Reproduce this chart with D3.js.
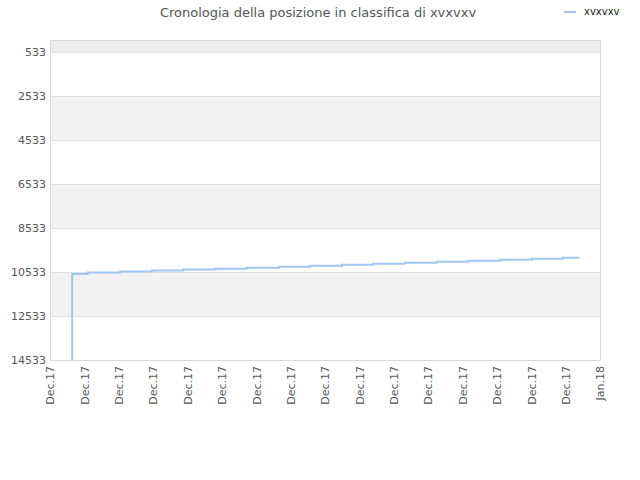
<!DOCTYPE html>
<html>
<head>
<meta charset="utf-8">
<script src="https://cdn.jsdelivr.net/npm/d3@7"></script>
<style>
  body { margin: 0; background: #fff; }
  text { font-family: "DejaVu Sans", sans-serif; }
</style>
</head>
<body>
<div id="chart-area"></div>
<script>
// chart data
var seriesName = "xvxvxv";
var dates = [
  "2017-12-02T06:00", "2017-12-02T06:00", "2017-12-03T03:00", "2017-12-04T23:00",
  "2017-12-06T18:00", "2017-12-08T12:00", "2017-12-10T07:00", "2017-12-12T02:00",
  "2017-12-13T22:00", "2017-12-15T16:00", "2017-12-17T11:00", "2017-12-19T05:00",
  "2017-12-21T00:00", "2017-12-22T19:00", "2017-12-24T14:00", "2017-12-26T09:00",
  "2017-12-28T04:00", "2017-12-29T22:00", "2017-12-30T20:00"
];
var ranks = [
  14533, 10620, 10560, 10515, 10470, 10425, 10380, 10335, 10290, 10245,
  10200, 10155, 10110, 10065, 10020, 9975, 9930, 9885, 9885
];
var yTicks = [533, 2533, 4533, 6533, 8533, 10533, 12533, 14533];
var xTicks = [
  "2017-12-01T00:00", "2017-12-02T22:30", "2017-12-04T21:00", "2017-12-06T19:30",
  "2017-12-08T18:00", "2017-12-10T16:30", "2017-12-12T15:00", "2017-12-14T13:30",
  "2017-12-16T12:00", "2017-12-18T10:30", "2017-12-20T09:00", "2017-12-22T07:30",
  "2017-12-24T06:00", "2017-12-26T04:30", "2017-12-28T03:00", "2017-12-30T01:30",
  "2018-01-01T00:00"
];

var W = 640, H = 480;
var pLeft = 50, pRight = 600, pTop = 40, pBottom = 360;

var parse = d3.timeParse("%Y-%m-%dT%H:%M");
var data = dates.map(function(d, i){ return { date: parse(d), rank: ranks[i] }; });
var tickDates = xTicks.map(function(d){ return parse(d); });

var svg = d3.select('#chart-area').append('svg')
    .attr('width', W)
    .attr('height', H);

var x = d3.scaleTime()
    .domain([tickDates[0], tickDates[tickDates.length - 1]])
    .range([pLeft, pRight]);

// ranks: smaller is better, so 533 sits at the top
var y = d3.scaleLinear()
    .domain([533, 14533])
    .range([52, pBottom]);

// alternating bands
svg.append('rect')
    .attr('x', pLeft).attr('y', pTop)
    .attr('width', pRight - pLeft).attr('height', y(533) - pTop)
    .attr('fill', '#ededed');
for (var i = 0; i < yTicks.length - 1; i++) {
    if (i % 2 == 1) {
        svg.append('rect')
            .attr('x', pLeft).attr('y', y(yTicks[i]))
            .attr('width', pRight - pLeft)
            .attr('height', y(yTicks[i + 1]) - y(yTicks[i]))
            .attr('fill', '#f2f2f2');
    }
}

// grid lines
svg.append('g').selectAll('line')
    .data(yTicks)
    .enter().append('line')
    .attr('x1', pLeft).attr('x2', pRight)
    .attr('y1', function(d){ return y(d); })
    .attr('y2', function(d){ return y(d); })
    .attr('stroke', '#e0e0e0')
    .attr('stroke-width', 1)
    .attr('shape-rendering', 'crispEdges');

// frame
svg.append('rect')
    .attr('x', pLeft).attr('y', pTop)
    .attr('width', pRight - pLeft).attr('height', pBottom - pTop)
    .attr('fill', 'none')
    .attr('stroke', '#d8d8d8')
    .attr('shape-rendering', 'crispEdges');

// y axis labels
var axisY = d3.axisLeft(y).tickValues(yTicks).tickSize(0).tickPadding(4)
    .tickFormat(function(d){ return d; });
svg.append('g')
    .attr('transform', 'translate(' + pLeft + ',0)')
    .call(axisY)
    .call(function(g){ g.select('.domain').remove(); })
    .selectAll('text')
        .attr('fill', '#555')
        .attr('font-size', 11)
        .attr('font-family', 'DejaVu Sans');

// x axis labels
var axisX = d3.axisBottom(x).tickValues(tickDates).tickSize(0)
    .tickFormat(d3.timeFormat("%b.%y"));
svg.append('g')
    .attr('transform', 'translate(0,' + pBottom + ')')
    .call(axisX)
    .call(function(g){ g.select('.domain').remove(); })
    .selectAll('text')
        .attr('fill', '#555')
        .attr('font-size', 11)
        .attr('font-family', 'DejaVu Sans')
        .attr('text-anchor', 'end')
        .attr('dy', '0.35em')
        .attr('x', -6)
        .attr('y', 0)
        .attr('transform', 'rotate(-90)');

// the line
var line = d3.line()
    .x(function(d){ return x(d.date); })
    .y(function(d){ return y(d.rank); })
    .curve(d3.curveStepAfter);

svg.append('path')
    .datum(data)
    .attr('d', line)
    .attr('fill', 'none')
    .attr('stroke', '#9dc8f3')
    .attr('stroke-width', 2);

// title
svg.append('text')
    .attr('x', 318)
    .attr('y', 17)
    .attr('text-anchor', 'middle')
    .attr('font-size', 13)
    .attr('fill', '#555')
    .text('Cronologia della posizione in classifica di ' + seriesName);

// legend
svg.append('line')
    .attr('x1', 564).attr('x2', 576)
    .attr('y1', 12).attr('y2', 12)
    .attr('stroke', '#9dc8f3')
    .attr('stroke-width', 2);
svg.append('text')
    .attr('x', 584)
    .attr('y', 15)
    .attr('font-size', 10)
    .attr('fill', '#222')
    .text(seriesName);
</script>
</body>
</html>
